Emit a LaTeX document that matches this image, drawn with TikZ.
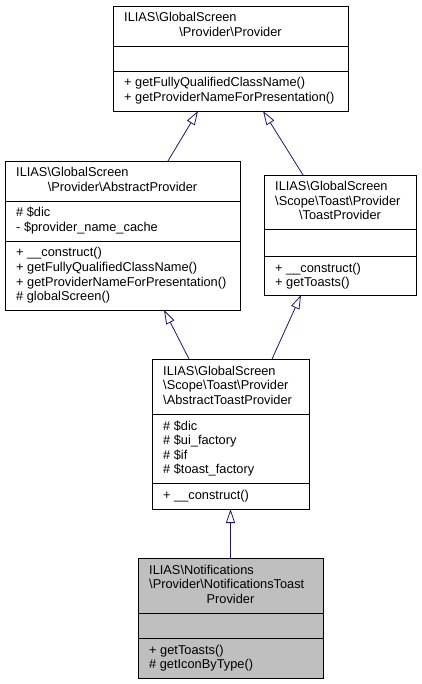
\documentclass[tikz,border=0pt]{standalone}
\usepackage{fontspec}
\setmainfont{Liberation Sans}
\usetikzlibrary{arrows.meta}

\definecolor{edgeblue}{RGB}{25,25,112}
\definecolor{boxgray}{RGB}{191,191,191}
\newcommand{\bsl}{\textbackslash}

\tikzset{
  clsbox/.style={draw=black, line width=0.8pt, fill=white, anchor=north west, inner sep=0pt, outer sep=0pt},
  txt/.style={anchor=base west, inner sep=0pt, font=\fontsize{12.8}{14.5}\selectfont},
  ctxt/.style={txt, anchor=base},
  inherit/.style={draw=edgeblue, line width=0.8pt, -{Triangle[fill=white, length=14pt, width=9pt]}}
}

\begin{document}
\begin{tikzpicture}[x=1pt,y=-1pt]
        \useasboundingbox (0,0) rectangle (421,684);

        % Provider
        \node[clsbox, minimum width=235, minimum height=105] (prov) at (113,6) {};
        \draw ([yshift=-40]prov.north west) -- ([yshift=-40]prov.north east);
        \draw ([yshift=-65]prov.north west) -- ([yshift=-65]prov.north east);
        \node[txt] (prov-t1) at (124,22) {ILIAS\bsl GlobalScreen};
        \node[ctxt] (prov-t2) at (230.5,36.5) {\bsl Provider\bsl Provider};
        \node[txt] (prov-m1) at (124,87) {+ getFullyQualifiedClassName()};
        \node[txt] (prov-m2) at (124,101.5) {+ getProviderNameForPresentation()};

        % AbstractProvider
        \node[clsbox, minimum width=235, minimum height=149] (absprov) at (5,161) {};
        \draw ([yshift=-40]absprov.north west) -- ([yshift=-40]absprov.north east);
        \draw ([yshift=-80]absprov.north west) -- ([yshift=-80]absprov.north east);
        \node[txt] (absprov-t1) at (16,177) {ILIAS\bsl GlobalScreen};
        \node[ctxt] (absprov-t2) at (122.5,191.5) {\bsl Provider\bsl AbstractProvider};
        \node[txt] (absprov-a1) at (16,217) {\# \$dic};
        \node[txt] (absprov-a2) at (16,231.5) {- \$provider\_name\_cache};
        \node[txt] (absprov-m1) at (16,257) {+ \_\_construct()};
        \node[txt] (absprov-m2) at (16,271.5) {+ getFullyQualifiedClassName()};
        \node[txt] (absprov-m3) at (16,286) {+ getProviderNameForPresentation()};
        \node[txt] (absprov-m4) at (16,300.5) {\# globalScreen()};

        % ToastProvider
        \node[clsbox, minimum width=152, minimum height=120] (toast) at (264,175) {};
        \draw ([yshift=-54]toast.north west) -- ([yshift=-54]toast.north east);
        \draw ([yshift=-81]toast.north west) -- ([yshift=-81]toast.north east);
        \node[txt] (toast-t1) at (275,191) {ILIAS\bsl GlobalScreen};
        \node[txt] (toast-t2) at (275,205.5) {\bsl Scope\bsl Toast\bsl Provider};
        \node[ctxt] (toast-t3) at (340,220) {\bsl ToastProvider};
        \node[txt] (toast-m1) at (275,272) {+ \_\_construct()};
        \node[txt] (toast-m2) at (275,286.5) {+ getToasts()};

        % AbstractToastProvider
        \node[clsbox, minimum width=157, minimum height=150] (abstoast) at (152,359) {};
        \draw ([yshift=-55]abstoast.north west) -- ([yshift=-55]abstoast.north east);
        \draw ([yshift=-124]abstoast.north west) -- ([yshift=-124]abstoast.north east);
        \node[txt] (abstoast-t1) at (163,375) {ILIAS\bsl GlobalScreen};
        \node[txt] (abstoast-t2) at (163,389.5) {\bsl Scope\bsl Toast\bsl Provider};
        \node[txt] (abstoast-t3) at (163,404) {\bsl AbstractToastProvider};
        \node[txt] (abstoast-a1) at (163,430) {\# \$dic};
        \node[txt] (abstoast-a2) at (163,444.5) {\# \$ui\_factory};
        \node[txt] (abstoast-a3) at (163,459) {\# \$if};
        \node[txt] (abstoast-a4) at (163,473.5) {\# \$toast\_factory};
        \node[txt] (abstoast-m1) at (163,499) {+ \_\_construct()};

        % NotificationsToastProvider
        \node[clsbox, fill=boxgray, minimum width=185, minimum height=120] (notif) at (138,558) {};
        \draw ([yshift=-55]notif.north west) -- ([yshift=-55]notif.north east);
        \draw ([yshift=-80]notif.north west) -- ([yshift=-80]notif.north east);
        \node[txt] (notif-t1) at (149,574) {ILIAS\bsl Notifications};
        \node[txt] (notif-t2) at (149,588.5) {\bsl Provider\bsl NotificationsToast};
        \node[ctxt] (notif-t3) at (230.5,603) {Provider};
        \node[txt] (notif-m1) at (149,654) {+ getToasts()};
        \node[txt] (notif-m2) at (149,668.5) {\# getIconByType()};

        % inheritance
        \draw[inherit] ([xshift=163]absprov.north west) -- ([xshift=85]prov.south west);
        \draw[inherit] ([xshift=39]toast.north west) -- ([xshift=150]prov.south west);
        \draw[inherit] ([xshift=37]abstoast.north west) -- ([xshift=159]absprov.south west);
        \draw[inherit] ([xshift=120]abstoast.north west) -- ([xshift=37]toast.south west);
        \draw[inherit] (notif.north) -- (abstoast.south);
\end{tikzpicture}
\end{document}
